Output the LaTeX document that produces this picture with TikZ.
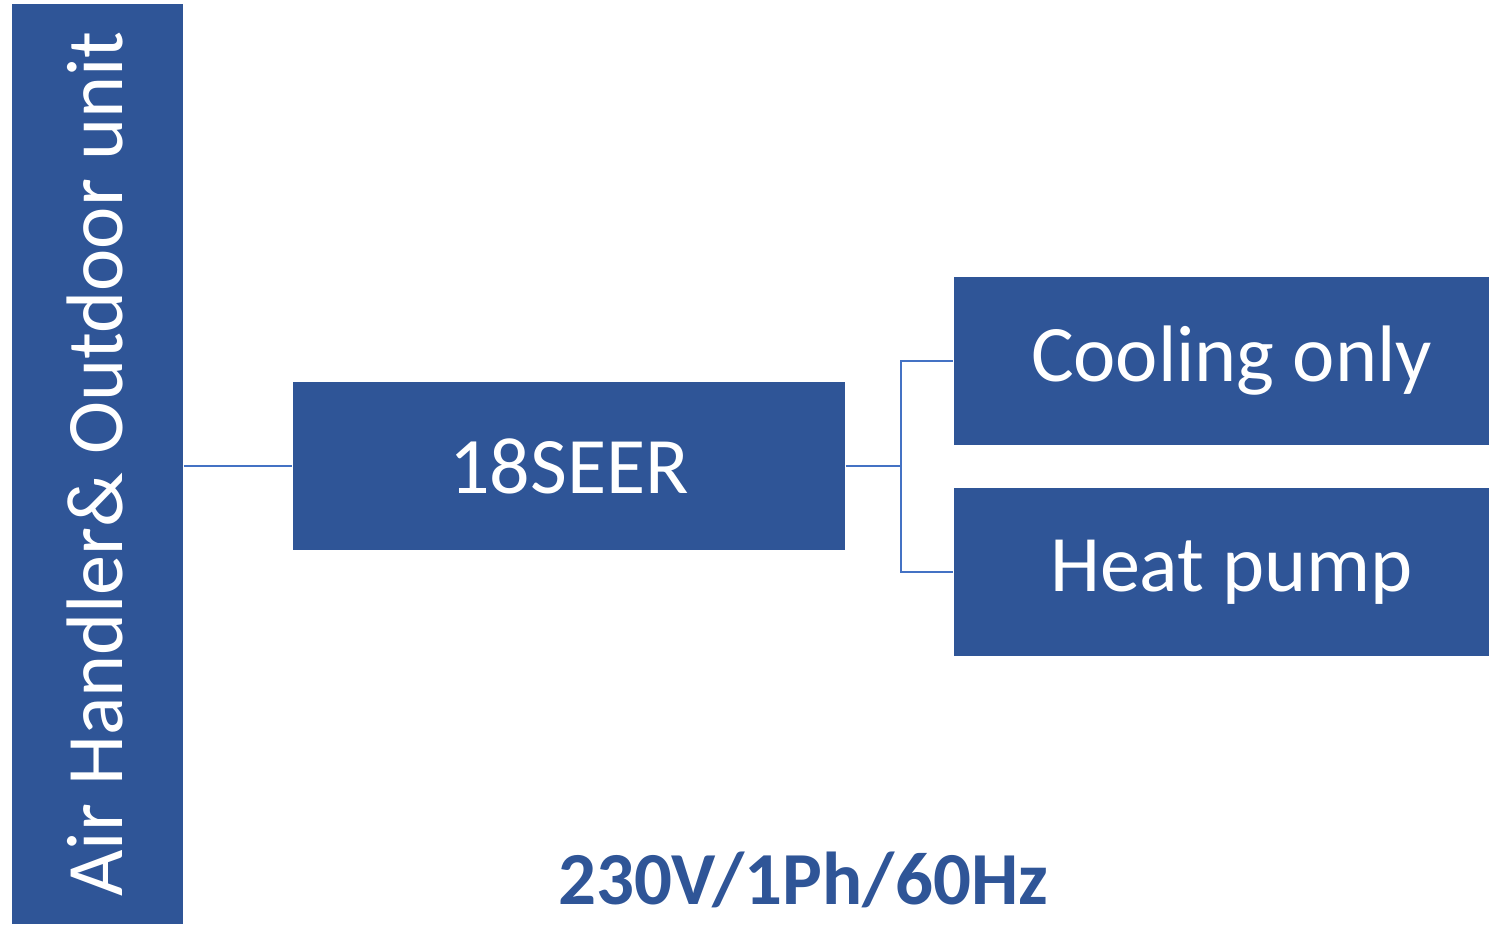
\documentclass[tikz,border=0pt]{standalone}
\usepackage{fontspec}
\setmainfont{Carlito}
\usetikzlibrary{positioning}
\definecolor{boxblue}{HTML}{2F5597}
\definecolor{lineblue}{HTML}{4472C4}

\begin{document}
\begin{tikzpicture}[
  font=\fontsize{22.8}{27}\selectfont,
  box/.style={fill=boxblue, text=white, inner sep=0pt, minimum height=1.68cm,
              align=center},
  conn/.style={draw=lineblue, line width=0.6pt}
]
\useasboundingbox (0,0) rectangle (14.89,-9.25);
% Left bar
\node[box, minimum width=1.71cm, minimum height=9.20cm] (bar) at (0.975,-4.64) {};
\node[text=white, rotate=90] (bartext) at (0.95,-4.64) {Air Handler\& Outdoor unit};
% Middle box
\node[box, minimum width=5.52cm] (seer) at (5.69,-4.66) {18SEER};
% Right boxes
\node[box, minimum width=5.35cm] (cool) at (12.215,-3.61) {\hspace{0.2cm}Cooling only};
\node[box, minimum width=5.35cm, below=0.42cm of cool] (heat) {\hspace{0.2cm}Heat pump};
% Connectors
\draw[conn] (seer.west -| bar.east) -- (seer.west);
\coordinate[right=0.55cm of seer.east] (fork);
\draw[conn] (seer.east) -- (fork) |- (cool.west);
\draw[conn] (fork) |- (heat.west);
% Supply label
\node[text=boxblue, font=\fontsize{21.3}{25}\selectfont\bfseries] (supply) at (8.03,-8.80) {230V/1Ph/60Hz};
\end{tikzpicture}
\end{document}
